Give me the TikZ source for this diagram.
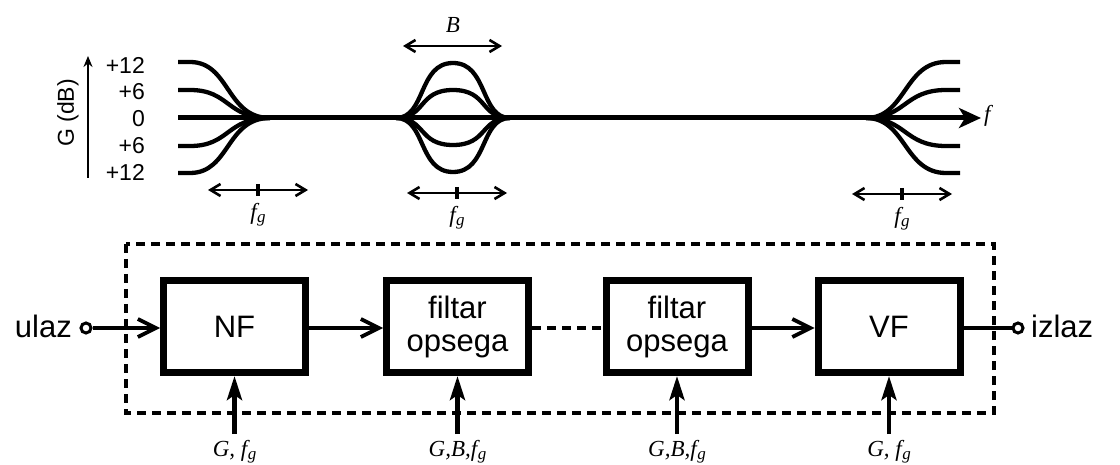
\documentclass[tikz,border=0pt]{standalone}
\usepackage{fontspec}
\setmainfont{Liberation Serif}
\setsansfont{Liberation Sans}
\usetikzlibrary{arrows.meta}
\newcommand\fgsub{f\kern0.5pt\raisebox{-0.3ex}{\fontsize{17}{17}\selectfont g}}
\begin{document}
\begin{tikzpicture}[x=1pt,y=-1pt,
  curve/.style={line width=4.3pt},
  blk/.style={draw,line width=7pt,minimum width=142pt,minimum height=92pt,inner sep=0pt,font=\sffamily\fontsize{31}{33}\selectfont,align=center},
  sig/.style={line width=4.2pt,-{Straight Barb[length=18pt,width=18pt,line width=3.8pt]}},
  ctl/.style={line width=4.5pt,-{Stealth[length=24pt,width=15pt,inset=5pt]}},
  wire/.style={line width=4.2pt},
  dbox/.style={line width=4.5pt,dash pattern=on 9pt off 6pt},
  fgarr/.style={line width=2.6pt,{Straight Barb[length=10pt,width=12pt,line width=2.6pt]}-{Straight Barb[length=10pt,width=12pt,line width=2.6pt]}},
  lbl/.style={font=\sffamily\fontsize{23}{25}\selectfont,inner sep=0pt},
  ilbl/.style={font=\fontsize{23}{25}\selectfont\itshape,inner sep=0pt},
  big/.style={font=\sffamily\fontsize{31}{33}\selectfont,inner sep=0pt},
  term/.style={circle,draw,line width=3pt,minimum size=10pt,inner sep=0pt,fill=white}]
\useasboundingbox (0,0) rectangle (1120,465);

% ---- axis ----
\coordinate (ya) at (88,178);
\coordinate (yb) at (88,56);
\draw[line width=2.6pt,-{Stealth[length=11pt,width=9pt]}] (ya) -- (yb);
\node[lbl,rotate=90] (Gdb) at (68,113) {G (dB)};
\node[lbl,anchor=east] (l1) at (145,65) {+12};
\node[lbl,anchor=east] (l2) at (145,92) {+6};
\node[lbl,anchor=east] (l3) at (145,119) {0};
\node[lbl,anchor=east] (l4) at (145,146) {+6};
\node[lbl,anchor=east] (l5) at (145,172) {+12};

% ---- baseline ----
\coordinate (b0) at (178,118);
\coordinate (b1) at (981,118);
\draw[line width=5pt,-{Stealth[length=22pt,width=20pt,inset=6pt]}] (b0) -- (b1);
\node[ilbl,anchor=west] (fl) at (984,116) {f};

% ---- left curves ----
\foreach \yy in {62,90,146,173}
  \draw[curve] (178,\yy) -- (190,\yy) .. controls (230,\yy) and (226,118) .. (270,118);

% ---- middle bumps ----
\foreach \yy in {63,90,145,172}
  \draw[curve] (396,118) .. controls (426,118) and (418,\yy) .. (453,\yy)
     .. controls (488,\yy) and (480,118) .. (510,118);

% ---- right curves ----
\foreach \yy in {62,90,146,173}
  \draw[curve] (866,118) .. controls (906,118) and (904,\yy) .. (946,\yy) -- (960,\yy);

% ---- B arrow ----
\coordinate (B0) at (403,46);
\coordinate (B1) at (502,46);
\draw[fgarr] (B0) -- (B1);
\node[ilbl] (Bl) at (453,25) {B};

% ---- fg arrows ----
\foreach \cx/\cy/\ly/\nm in {258/190/215/a,457/193/218/b,902/194/219/c}{
  \coordinate (fg\nm0) at (\cx-50,\cy);
  \coordinate (fg\nm1) at (\cx+50,\cy);
  \draw[fgarr] (fg\nm0) -- (fg\nm1);
  \draw[line width=3.5pt] (\cx,\cy-6) -- (\cx,\cy+6);
  \node[ilbl] (fgl\nm) at (\cx,\ly) {\fgsub};
}

% ---- dashed box ----
\draw[dbox] (126,244) rectangle (994,413);

% ---- blocks ----
\node[blk] (nf) at (234.5,326.5) {NF};
\node[blk] (f1) at (457.5,326.5) {filtar\\opsega};
\node[blk] (f2) at (677,326.5) {filtar\\opsega};
\node[blk] (vf) at (889,326.5) {VF};

% ---- signal path ----
\node[term] (in) at (86,328) {};
\node[big,anchor=east] (ulaz) at (72,326) {ulaz};
\node[term] (out) at (1018,328) {};
\node[big,anchor=west] (izlaz) at (1031,326) {izlaz};

\coordinate (sy) at (0,328);
\draw[sig] (in) -- (in -| nf.west);
\draw[sig] (nf.east |- sy) -- (f1.west |- sy);
\draw[dbox] (f1.east |- sy) -- (f2.west |- sy);
\draw[sig] (f2.east |- sy) -- (vf.west |- sy);
\draw[wire] (vf.east |- sy) -- (out);

% ---- control inputs ----
\foreach \b/\txt in {nf/{G, \fgsub},f1/{G,B,\fgsub},f2/{G,B,\fgsub},vf/{G, \fgsub}}{
  \coordinate (c\b) at ([yshift=-58pt]\b.south);
  \draw[ctl] (c\b) -- (\b.south);
  \node[ilbl] (t\b) at ([yshift=-18pt]c\b) {\txt};
}
\end{tikzpicture}
\end{document}
